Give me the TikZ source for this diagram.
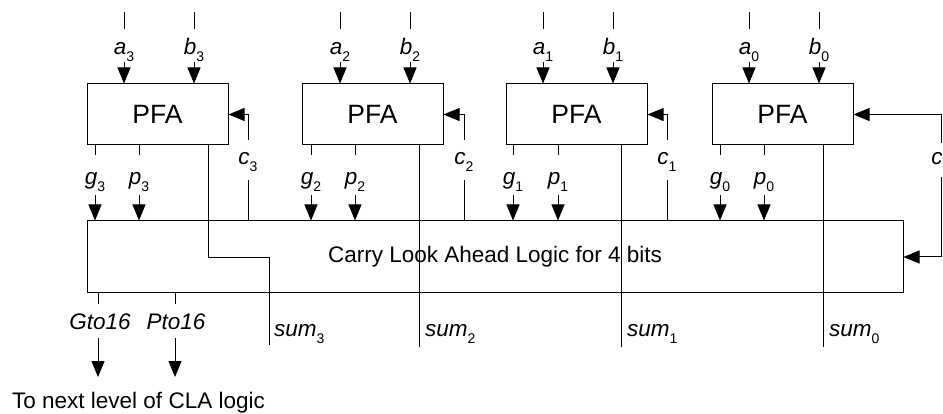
\documentclass[tikz,border=0pt]{standalone}
\usepackage{fontspec}
\setmainfont{Liberation Sans}
\usetikzlibrary{arrows.meta}
\newcommand{\lbl}[2]{\textit{#1}\raisebox{-0.3em}{\fontsize{14}{14}\selectfont #2}}
\tikzset{
  wire/.style={line width=1pt},
  arr/.style={line width=1pt,-{Triangle[length=16pt,width=13pt]}},
  pfabox/.style={draw,line width=1pt,minimum width=141pt,minimum height=61pt,inner sep=0pt,font=\fontsize{26.5}{30}\selectfont},
  clabox/.style={draw,line width=1pt,minimum width=816pt,minimum height=72pt,inner sep=0pt,font=\fontsize{22.5}{26}\selectfont},
  lab/.style={inner sep=0pt,font=\fontsize{22.5}{26}\selectfont}
}
\begin{document}
\begin{tikzpicture}[x=1pt,y=-1pt]
\useasboundingbox (0,0) rectangle (943,414);
\node[clabox] (CLA) at (495,257) {Carry Look Ahead Logic for 4 bits};
\foreach \i/\L/\xa/\xb/\xg/\xp in {3/87/124/194/95/139, 2/302/340/410/311/355, 1/506/543/613/513/558, 0/712/749/819/720/764} {
  \node[pfabox] (P\i) at ({\L+70.5},114.5) {PFA};
  % inputs a, b
  \coordinate (ta\i) at (\xa,12);
  \coordinate (tb\i) at (\xb,12);
  \draw[wire] (ta\i) -- (\xa,29);
  \draw[wire] (tb\i) -- (\xb,29);
  \node[lab,anchor=base] (a\i) at (\xa,55) {\lbl{a}{\i}};
  \node[lab,anchor=base] (b\i) at (\xb,55) {\lbl{b}{\i}};
  \draw[arr] (\xa,62) -- (\xa,0 |- P\i.north);
  \draw[arr] (\xb,62) -- (\xb,0 |- P\i.north);
  % outputs g, p
  \draw[wire] (\xg,0 |- P\i.south) -- (\xg,155);
  \draw[wire] (\xp,0 |- P\i.south) -- (\xp,155);
  \node[lab,anchor=base] (g\i) at (\xg,185) {\lbl{g}{\i}};
  \node[lab,anchor=base] (p\i) at (\xp,185) {\lbl{p}{\i}};
  \draw[arr] (\xg,195) -- (\xg,0 |- CLA.north);
  \draw[arr] (\xp,195) -- (\xp,0 |- CLA.north);
}
% carries
\foreach \i/\xc in {3/248, 2/464, 1/667} {
  \draw[arr] (\xc,140) -- (\xc,0 |- P\i.east) -- (P\i.east);
  \node[lab,anchor=base] (c\i) at (\xc,165) {\lbl{c}{\i}};
  \draw[wire] (\xc,180) -- (\xc,0 |- CLA.north);
}
\coordinate (c0top) at (941,143);
\draw[arr] (c0top) -- (941,0 |- P0.east) -- (P0.east);
\node[lab,anchor=base] (c0) at (941,165) {\lbl{c}{0}};
\draw[arr] (941,177) -- (941,0 |- CLA.east) -- (CLA.east);
% sums
\draw[wire] (208,0 |- P3.south) -- (208,258) -- (269,258) -- (269,345);
\node[lab,anchor=base west] (s3) at (274,337) {\lbl{sum}{3}};
\draw[wire] (419,0 |- P2.south) -- (419,347);
\node[lab,anchor=base west] (s2) at (425,337) {\lbl{sum}{2}};
\draw[wire] (621,0 |- P1.south) -- (621,347);
\node[lab,anchor=base west] (s1) at (627,337) {\lbl{sum}{1}};
\draw[wire] (823,0 |- P0.south) -- (823,347);
\node[lab,anchor=base west] (s0) at (829,337) {\lbl{sum}{0}};
% group outputs
\draw[wire] (98,0 |- CLA.south) -- (98,304);
\node[lab,anchor=base] (G16) at (100,330) {\textit{Gto16}};
\draw[arr] (98,338) -- (98,377);
\draw[wire] (175,0 |- CLA.south) -- (175,304);
\node[lab,anchor=base] (P16) at (176,330) {\textit{Pto16}};
\draw[arr] (175,338) -- (175,377);
\node[lab,anchor=base west] (next) at (12,408) {To next level of CLA logic};
\end{tikzpicture}
\end{document}
